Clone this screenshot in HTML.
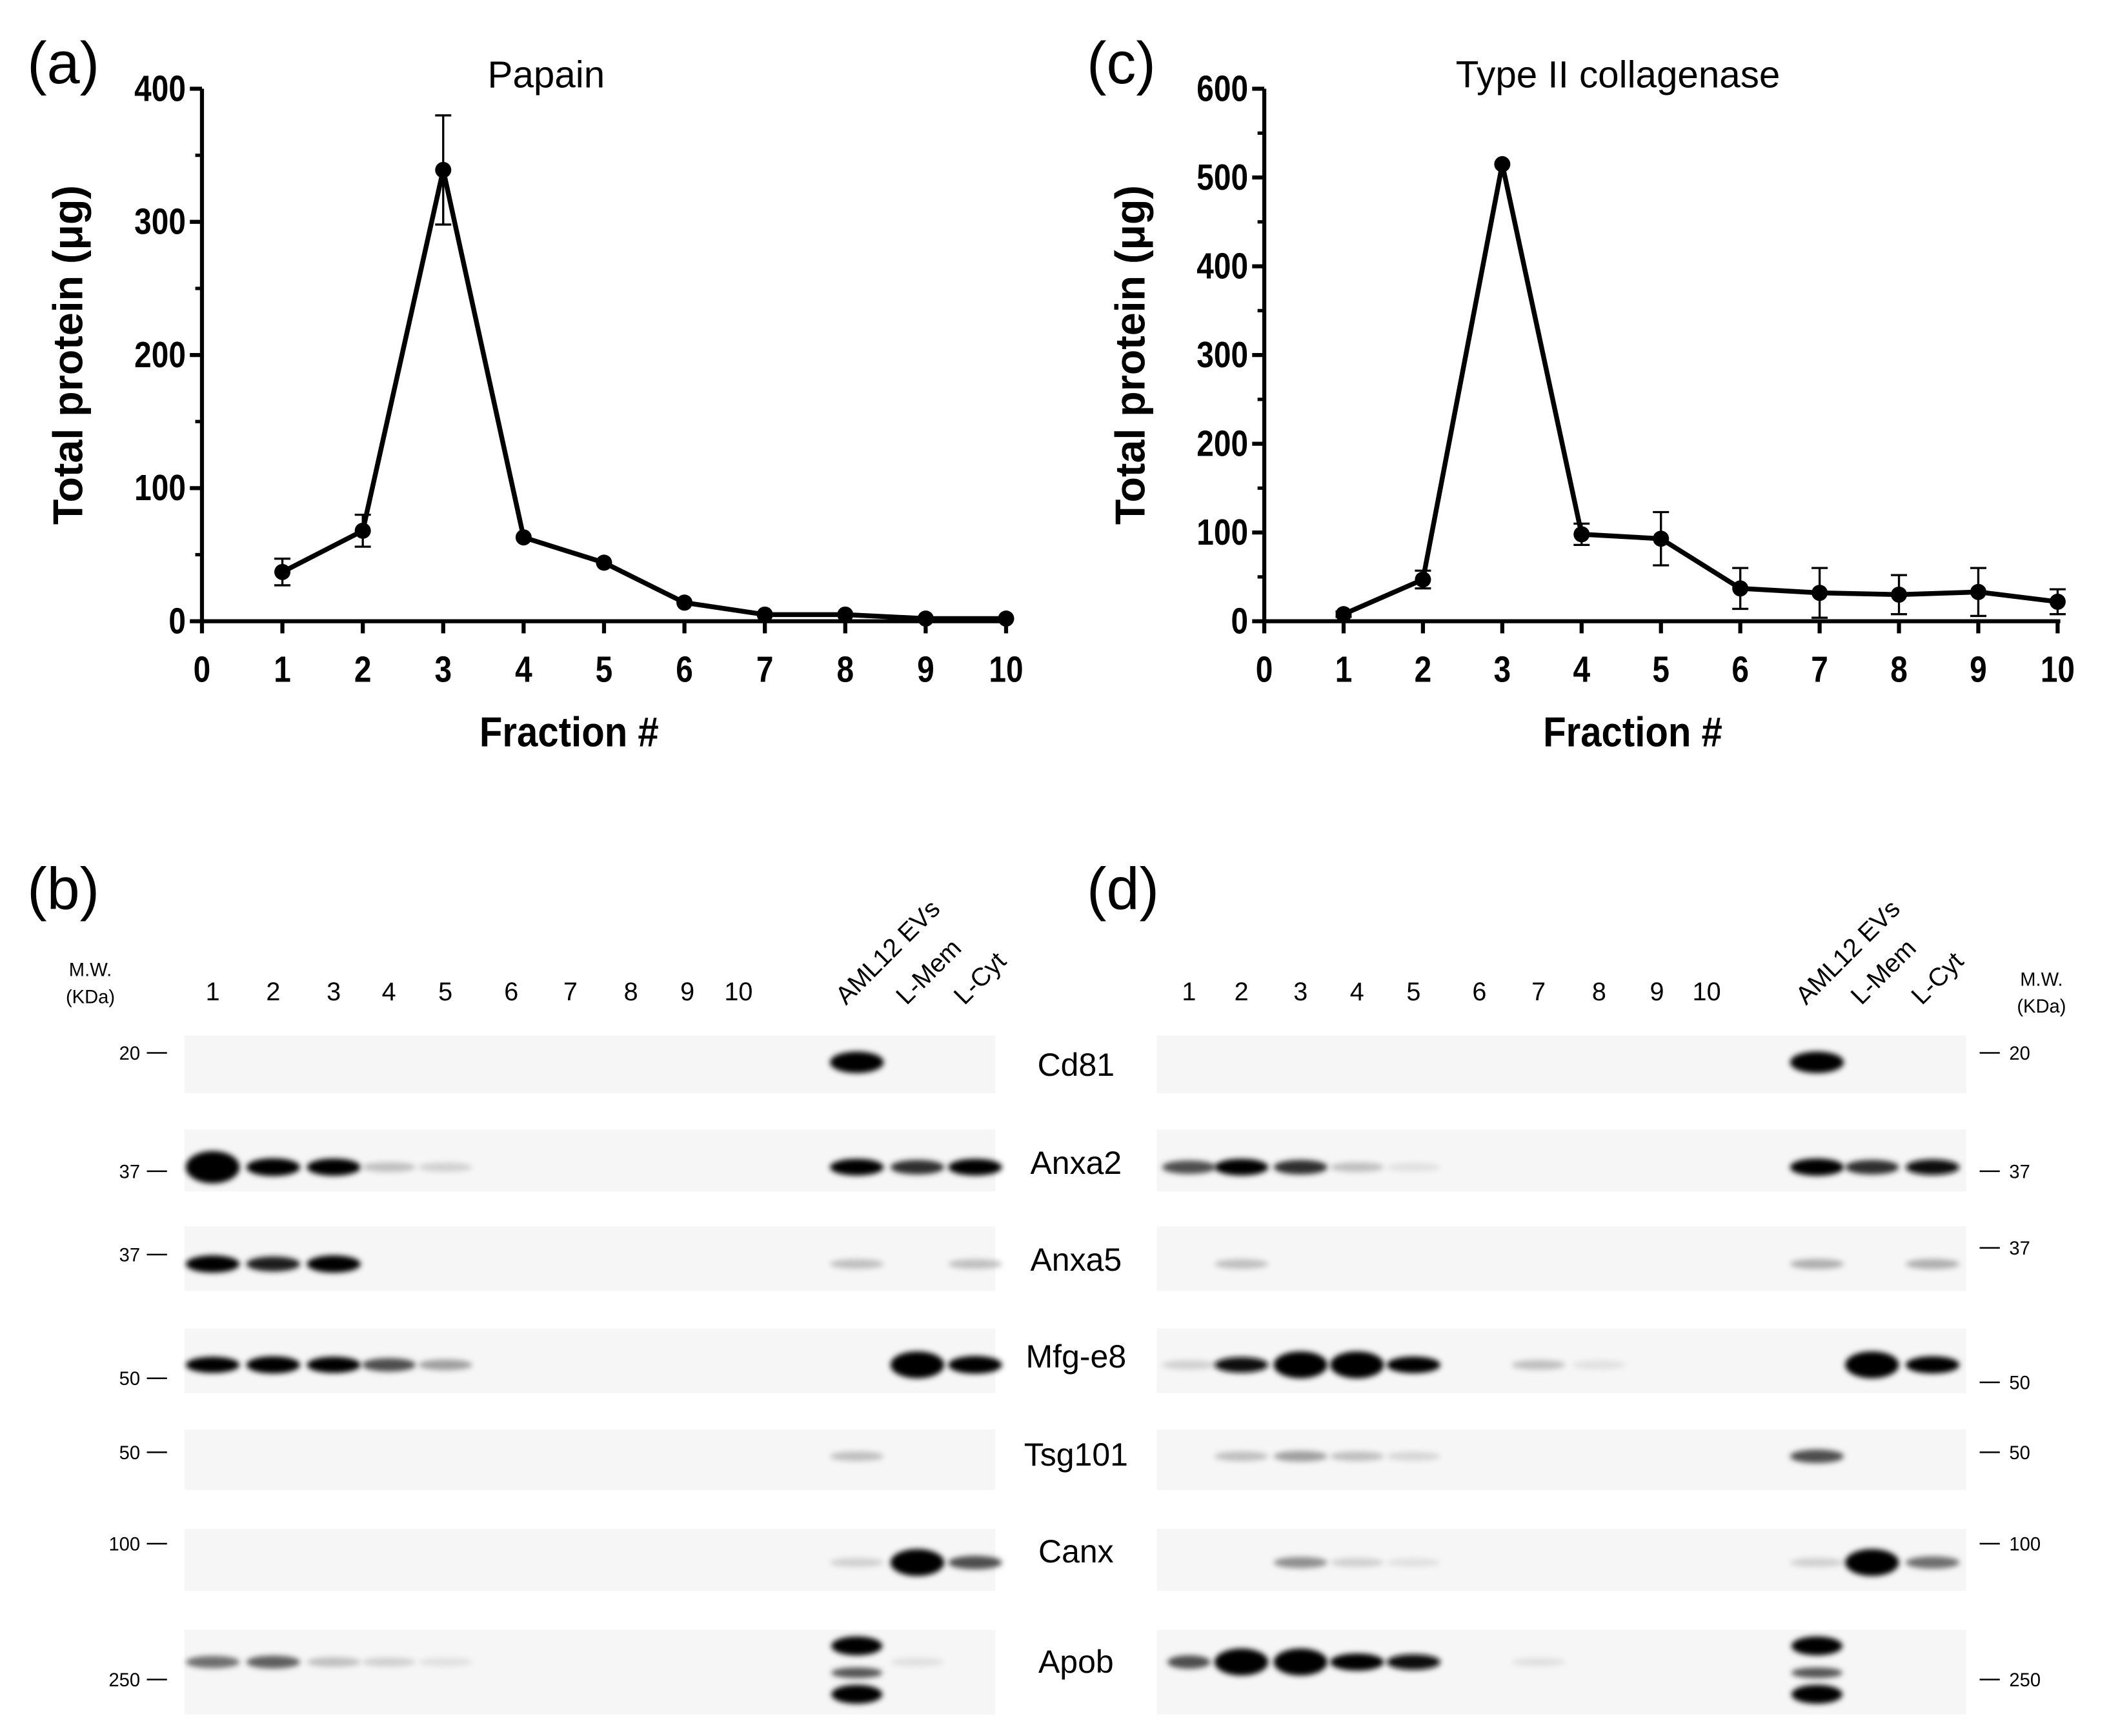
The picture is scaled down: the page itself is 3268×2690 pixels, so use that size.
<!DOCTYPE html>
<html><head><meta charset="utf-8"><style>
html,body{margin:0;padding:0;background:#fff;}
svg{display:block;}
text{font-family:"Liberation Sans",Arial,sans-serif;}
</style></head><body>
<svg id="fig" width="3268" height="2690" viewBox="0 0 1568 1291" xmlns="http://www.w3.org/2000/svg">
<defs>
<filter id="blur" x="-50%" y="-100%" width="200%" height="300%"><feGaussianBlur stdDeviation="2"/></filter>
</defs>
<g id="root"></g>
</svg>
<script>
// ---- Chart data ----
const fractions = [1,2,3,4,5,6,7,8,9,10];
const xTicks = [0,1,2,3,4,5,6,7,8,9,10];
const papainValues = [37,68,339,63,44,14,5,5,2,2];
const papainErrors = [10,12,41,0,0,0,0,0,0,0];
const papainYTicks = [0,100,200,300,400];
const collagenaseValues = [8,47,515,98,93,37,32,30,33,22];
const collagenaseErrors = [3,10,0,12,30,23,28,22,27,14];
const collagenaseYTicks = [0,100,200,300,400,500,600];

// ---- Blot data ----
const blotProteins = ["Cd81","Anxa2","Anxa5","Mfg-e8","Tsg101","Canx","Apob"];
const laneLabels = ["1","2","3","4","5","6","7","8","9","10"];
const extraLabels = ["AML12 EVs","L-Mem","L-Cyt"];
const mwLeftB = ["20","37","37","50","50","100","250"];
const mwRightD = ["20","37","37","50","50","100","250"];
// intensities per row: lanes 1..10 then AML, Mem, Cyt
const bandsB = [
 [0,0,0,0,0,0,0,0,0,0, 1.0,0,0],
 [1.0,0.9,0.85,0.15,0.1,0,0,0,0,0, 0.8,0.6,0.8],
 [0.85,0.65,0.85,0,0,0,0,0,0,0, 0.15,0,0.15],
 [0.75,0.85,0.75,0.5,0.25,0,0,0,0,0, 0,1.0,0.9],
 [0,0,0,0,0,0,0,0,0,0, 0.15,0,0],
 [0,0,0,0,0,0,0,0,0,0, 0.1,1.0,0.5],
 [0.4,0.45,0.15,0.1,0.05,0,0,0,0,0, 1.0,0.05,0]
];
const bandsD = [
 [0,0,0,0,0,0,0,0,0,0, 1.0,0,0],
 [0.5,0.8,0.6,0.15,0.05,0,0,0,0,0, 0.85,0.6,0.7],
 [0,0.15,0,0,0,0,0,0,0,0, 0.2,0,0.2],
 [0.1,0.7,1.0,0.95,0.8,0,0.15,0.05,0,0, 0,1.0,0.85],
 [0,0.15,0.25,0.15,0.08,0,0,0,0,0, 0.5,0,0],
 [0,0,0.3,0.1,0.05,0,0,0,0,0, 0.1,1.0,0.4],
 [0.5,1.0,0.95,0.85,0.7,0,0.05,0,0,0, 1.0,0,0]
];

const NS="http://www.w3.org/2000/svg";
const root=document.getElementById('root');
function mk(tag,attrs,parent,txt){const e=document.createElementNS(NS,tag);for(const k in attrs)e.setAttribute(k,attrs[k]);if(txt!==undefined)e.textContent=txt;(parent||root).appendChild(e);return e;}

function lineChart(cfg){
  const g=mk('g',{});
  
  
  const xs=v=>cfg.x0+(v-0)*(cfg.x1-cfg.x0)/10;
  const ys=v=>cfg.y0-(v)*(cfg.y0-cfg.y1)/cfg.ymax;
  const ya=mk('line',{x1:cfg.x0,y1:cfg.y1,x2:cfg.x0,y2:cfg.y0+1.5,stroke:'#000','stroke-width':3},g);
  
  const xa=mk('line',{x1:cfg.x0-1.5,y1:cfg.y0,x2:cfg.x1+2,y2:cfg.y0,stroke:'#000','stroke-width':3},g);
  
  cfg.yTicks.forEach(t=>{
    mk('line',{x1:cfg.x0-9,y1:ys(t),x2:cfg.x0,y2:ys(t),stroke:'#000','stroke-width':3},g);
    const tl=mk('text',{x:0,y:0,'text-anchor':'end','font-size':27,'font-weight':'bold',transform:`translate(${cfg.x0-12},${ys(t)+9}) scale(0.85,1)`},g,String(t));
    
  });
  for(let i=0;i<cfg.yTicks.length-1;i++){
    const m=(cfg.yTicks[i]+cfg.yTicks[i+1])/2;
    mk('line',{x1:cfg.x0-5,y1:ys(m),x2:cfg.x0,y2:ys(m),stroke:'#000','stroke-width':2.5},g);
  }
  xTicks.forEach(t=>{
    mk('line',{x1:xs(t),y1:cfg.y0,x2:xs(t),y2:cfg.y0+9,stroke:'#000','stroke-width':3},g);
    const tl=mk('text',{x:0,y:0,'text-anchor':'middle','font-size':27,'font-weight':'bold',transform:`translate(${xs(t)},${cfg.y0+45}) scale(0.85,1)`},g,String(t));
    
  });
  fractions.forEach((f,i)=>{
    const e=cfg.err[i]; if(!e) return;
    const x=xs(f),yt=ys(cfg.vals[i]+e),yb=ys(cfg.vals[i]-e);
    const eb=mk('path',{d:`M${x},${yt}V${yb}M${x-6},${yt}H${x+6}M${x-6},${yb}H${x+6}`,stroke:'#000','stroke-width':1.6,fill:'none'},g);
    
  });
  const pts=fractions.map((f,i)=>xs(f)+','+ys(cfg.vals[i])).join(' ');
  const pl=mk('polyline',{points:pts,fill:'none',stroke:'#000','stroke-width':3.6,'stroke-linejoin':'round'},g);
  
  fractions.forEach((f,i)=>{
    const c=mk('circle',{cx:xs(f),cy:ys(cfg.vals[i]),r:6,fill:'#000'},g);
    
  });
  const t=mk('text',{x:cfg.titleX,y:65,'text-anchor':'middle','font-size':28},g,cfg.title);
  
  const xt=mk('text',{x:0,y:0,'text-anchor':'middle','font-size':31,'font-weight':'bold',transform:`translate(${cfg.xTitleX},${cfg.y0+93}) scale(0.9,1)`},g,'Fraction #');
  
  const yt=mk('text',{x:0,y:0,'text-anchor':'middle','font-size':31,'font-weight':'bold',transform:`translate(${cfg.yTitleX},${(cfg.y0+cfg.y1)/2}) rotate(-90)`},g,'Total protein (μg)');
  
  const pl2=mk('text',{x:cfg.panelX,y:62,'font-size':44},g,cfg.panel);
  
}
lineChart({name:'papain-chart',x0:150,x1:748,y0:462,y1:66,ymax:400,yTicks:papainYTicks,vals:papainValues,err:papainErrors,title:'Papain',titleX:406,xTitleX:423,yTitleX:61,panel:'(a)',panelX:20});
lineChart({name:'collagenase-chart',x0:940,x1:1530,y0:462,y1:66,ymax:600,yTicks:collagenaseYTicks,vals:collagenaseValues,err:collagenaseErrors,title:'Type II collagenase',titleX:1203,xTitleX:1214,yTitleX:851,panel:'(c)',panelX:808});

// ---- Blots ----
const rowTops=[770,840,912,988,1063,1137,1212];
const rowH=[43,46,48,48,45,46,63];
const bandY=[790,868,940,1015,1083,1162,1236];
const rowLabelY=[800,873,945,1017,1090,1162,1244];
function blot(cfg){
  const g=mk('g',{});
  
  
  const pn=mk('text',{x:cfg.panelX,y:676,'font-size':44},g,cfg.panel);
  
  laneLabels.forEach((l,i)=>{
    const t=mk('text',{x:cfg.lanes[i],y:744,'text-anchor':'middle','font-size':19},g,l);
    
  });
  extraLabels.forEach((l,i)=>{
    const x=cfg.extra[i];
    const t=mk('text',{x:0,y:0,'text-anchor':'start','font-size':19,transform:`translate(${x-8},${748}) rotate(-45)`},g,l);
    
  });
  const allX=cfg.lanes.concat(cfg.extra);
  cfg.bands.forEach((row,r)=>{
    const s=mk('rect',{x:cfg.sx0,y:rowTops[r],width:cfg.sx1-cfg.sx0,height:rowH[r],fill:'#f6f6f6'},g);
    
    row.forEach((v,i)=>{
      if(!v) return;
      const big=(v>=0.95);
      const d=Math.min(1,v*1.35);
      const gray=Math.round(240-240*d);
      const w=i===0&&cfg.name==='blot-d'&&r===6?16:20;
      let h=big?(r===0?8:10):3+4*v;
      if(r===1&&i===0&&cfg.name==='blot-b') h=12;
      if(r===6&&i===10){
        [1224,1244,1260].forEach((yy,k)=>{mk('ellipse',{cx:allX[i],cy:yy,rx:19,ry:k===1?4:7,fill:k===1?'#555':'#000',filter:'url(#blur)'},g);});
        return;
      }
      const e=mk('ellipse',{cx:allX[i],cy:bandY[r],rx:w,ry:h,fill:`rgb(${gray},${gray},${gray})`,filter:'url(#blur)'},g);
      
    });
    if(cfg.showLabels){
      const pl=mk('text',{x:cfg.labelX,y:rowLabelY[r],'text-anchor':'middle','font-size':24},g,blotProteins[r]);
      
    }
  });
  cfg.mw.forEach((m,r)=>{
    const y=cfg.mwY[r];
    let t;
    if(cfg.side==='left'){
      t=mk('text',{x:cfg.mwX,y:y+5,'text-anchor':'end','font-size':14},g,m);
      mk('line',{x1:cfg.mwX+5,y1:y,x2:cfg.mwX+20,y2:y,stroke:'#000','stroke-width':1.2},g);
    } else {
      mk('line',{x1:cfg.mwX,y1:y,x2:cfg.mwX+15,y2:y,stroke:'#000','stroke-width':1.2},g);
      t=mk('text',{x:cfg.mwX+22,y:y+5,'font-size':14},g,m);
    }
    
  });
}
blot({name:'blot-b',panel:'(b)',panelX:20,lanes:[158,203,248,289,331,380,424,469,511,549],extra:[637,682,725],sx0:137,sx1:740,bands:bandsB,labelX:800,showLabels:true,mw:mwLeftB,mwX:104,mwY:[783,871,933,1025,1080,1148,1249],side:'left'});
blot({name:'blot-d',panel:'(d)',panelX:808,lanes:[884,923,967,1009,1051,1100,1144,1189,1232,1269],extra:[1351,1392,1437],sx0:860,sx1:1462,bands:bandsD,labelX:800,showLabels:false,mw:mwRightD,mwX:1472,mwY:[783,871,928,1028,1080,1148,1249],side:'right'});
const mwB1=mk('text',{x:67,y:726,'text-anchor':'middle','font-size':14},root,'M.W.');

const mwB2=mk('text',{x:67,y:746,'text-anchor':'middle','font-size':14},root,'(KDa)');

const mwD1=mk('text',{x:1518,y:733,'text-anchor':'middle','font-size':14},root,'M.W.');

const mwD2=mk('text',{x:1518,y:753,'text-anchor':'middle','font-size':14},root,'(KDa)');

</script>
</body></html>
